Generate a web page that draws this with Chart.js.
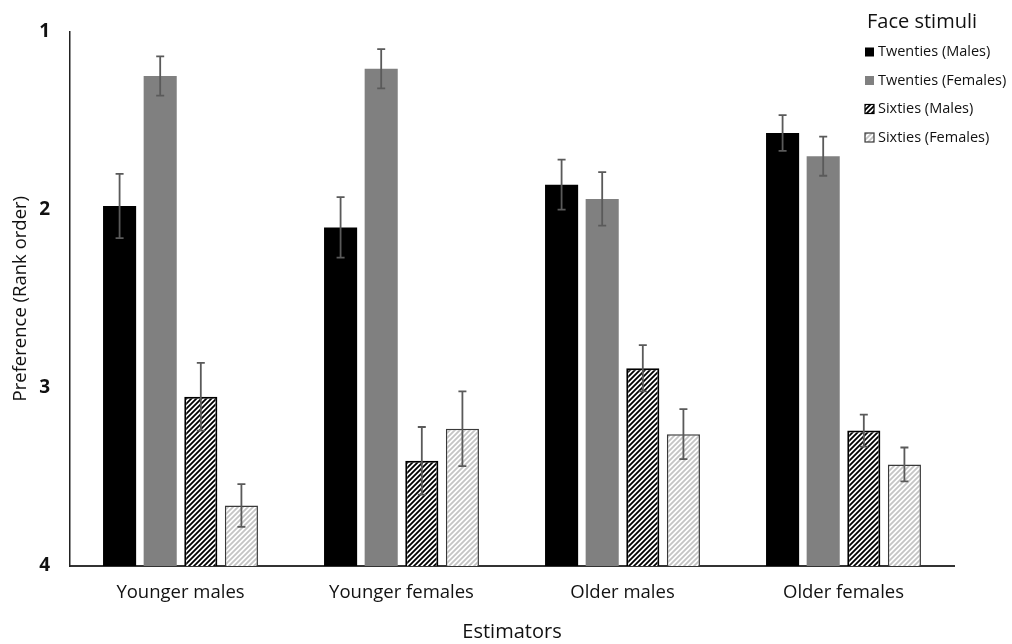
<!DOCTYPE html>
<html>
<head>
<meta charset="utf-8">
<script src="https://cdn.jsdelivr.net/npm/chart.js@4/dist/chart.umd.min.js"></script>
<style>
  html, body { margin: 0; padding: 0; background: #fff; }
  #wrap { width: 1012px; height: 644px; }
</style>
</head>
<body>
<div id="wrap"><canvas id="c" width="1012" height="644"></canvas></div>
<script>
// Estimator groups along the x axis
const categories = ['Younger males', 'Younger females', 'Older males', 'Older females'];

// Face stimulus series labels
const seriesLabels = ['Twenties (Males)', 'Twenties (Females)', 'Sixties (Males)', 'Sixties (Females)'];

// Mean preference (rank order, 1 = most preferred)
const twentiesMales   = [1.98, 2.10, 1.86, 1.57];
const twentiesFemales = [1.25, 1.21, 1.94, 1.70];
const sixtiesMales    = [3.05, 3.41, 2.89, 3.24];
const sixtiesFemales  = [3.66, 3.23, 3.26, 3.43];

// Error bar half-widths
const errTwentiesMales   = [0.18, 0.17, 0.14, 0.10];
const errTwentiesFemales = [0.11, 0.11, 0.15, 0.11];
const errSixtiesMales    = [0.19, 0.19, 0.13, 0.09];
const errSixtiesFemales  = [0.12, 0.21, 0.14, 0.095];

// Rank ticks
const rankTicks = [1, 2, 3, 4];

const FONT = '"Open Sans", "Noto Sans", sans-serif';

function hatch(stripe, bg) {
  const s = 5;
  const cv = document.createElement('canvas');
  cv.width = s; cv.height = s;
  const g = cv.getContext('2d');
  g.fillStyle = bg;
  g.fillRect(0, 0, s, s);
  g.strokeStyle = stripe;
  g.lineWidth = 1.8;
  g.beginPath();
  g.moveTo(-1, s + 1); g.lineTo(s + 1, -1);
  g.moveTo(-1, 1); g.lineTo(1, -1);
  g.moveTo(s - 1, s + 1); g.lineTo(s + 1, s - 1);
  g.stroke();
  return document.getElementById('c').getContext('2d').createPattern(cv, 'repeat');
}

// Vertical error bars with short caps
const errorBars = {
  id: 'errorBars',
  afterDatasetsDraw(chart) {
    const ctx = chart.ctx;
    const y = chart.scales.y;
    ctx.save();
    ctx.strokeStyle = '#5a5a5a';
    ctx.lineWidth = 1.8;
    chart.data.datasets.forEach((ds, i) => {
      const meta = chart.getDatasetMeta(i);
      meta.data.forEach((bar, j) => {
        const v = ds.data[j], e = ds.errors[j];
        const y1 = y.getPixelForValue(v - e), y2 = y.getPixelForValue(v + e);
        const x = bar.x;
        ctx.beginPath();
        ctx.moveTo(x, y1); ctx.lineTo(x, y2);
        ctx.moveTo(x - 4, y1); ctx.lineTo(x + 4, y1);
        ctx.moveTo(x - 4, y2); ctx.lineTo(x + 4, y2);
        ctx.stroke();
      });
    });
    ctx.restore();
  }
};

// Legend block in the upper right corner
const legendBox = {
  id: 'legendBox',
  afterDraw(chart) {
    const ctx = chart.ctx;
    ctx.save();
    ctx.fillStyle = '#111';
    ctx.font = '20px ' + FONT;
    ctx.textBaseline = 'middle';
    ctx.textAlign = 'left';
    ctx.fillText('Face stimuli', 867, 22);
    ctx.font = '14.5px ' + FONT;
    chart.data.datasets.forEach((ds, i) => {
      const yy = 52 + i * 28.5;
      const bx = 865, bs = 9;
      ctx.fillStyle = ds.backgroundColor;
      ctx.fillRect(bx, yy - bs / 2, bs, bs);
      if (ds.borderWidth) {
        ctx.strokeStyle = ds.borderColor;
        ctx.lineWidth = 1.2;
        ctx.strokeRect(bx, yy - bs / 2, bs, bs);
      }
      ctx.fillStyle = '#111';
      ctx.fillText(ds.label, 878, yy);
    });
    ctx.restore();
  }
};

const datasets = [
  { label: seriesLabels[0], data: twentiesMales, errors: errTwentiesMales,
    backgroundColor: '#000000', borderWidth: 0 },
  { label: seriesLabels[1], data: twentiesFemales, errors: errTwentiesFemales,
    backgroundColor: '#808080', borderWidth: 0 },
  { label: seriesLabels[2], data: sixtiesMales, errors: errSixtiesMales,
    backgroundColor: hatch('#000000', '#ffffff'), borderColor: '#000000', borderWidth: 2 },
  { label: seriesLabels[3], data: sixtiesFemales, errors: errSixtiesFemales,
    backgroundColor: hatch('#c4c4c4', '#ffffff'), borderColor: '#3a3a3a', borderWidth: 1.5 }
].map(d => Object.assign(d, { base: 4, categoryPercentage: 0.735, barPercentage: 0.815 }));

new Chart(document.getElementById('c'), {
  type: 'bar',
  data: { labels: categories, datasets },
  options: {
    responsive: false,
    animation: false,
    devicePixelRatio: 1,
    layout: { padding: { left: 0, right: 58, top: 30, bottom: 0 } },
    plugins: { legend: { display: false }, tooltip: { enabled: false } },
    scales: {
      x: {
        grid: { display: false, drawTicks: false },
        border: { display: true, color: '#333', width: 2 },
        ticks: { color: '#111', font: { family: FONT, size: 18.5 }, padding: 16 },
        title: { display: true, text: 'Estimators', color: '#111', font: { family: FONT, size: 20 }, padding: { top: 0, bottom: 0 } },
        afterFit(s) { s.height = 78; }
      },
      y: {
        reverse: true,
        min: 1, max: 4,
        afterBuildTicks(s) { s.ticks = rankTicks.map(v => ({ value: v })); },
        grid: { display: false, drawTicks: false },
        border: { display: true, color: '#222', width: 1.5 },
        ticks: { color: '#111', font: { family: FONT, size: 19, weight: 'bold' }, padding: 20 },
        title: { display: true, text: 'Preference (Rank order)', color: '#111', font: { family: FONT, size: 18.5 }, padding: { top: 10, bottom: 0 } },
        afterFit(s) { s.width = 70; }
      }
    }
  },
  plugins: [errorBars, legendBox]
});
</script>
</body>
</html>
